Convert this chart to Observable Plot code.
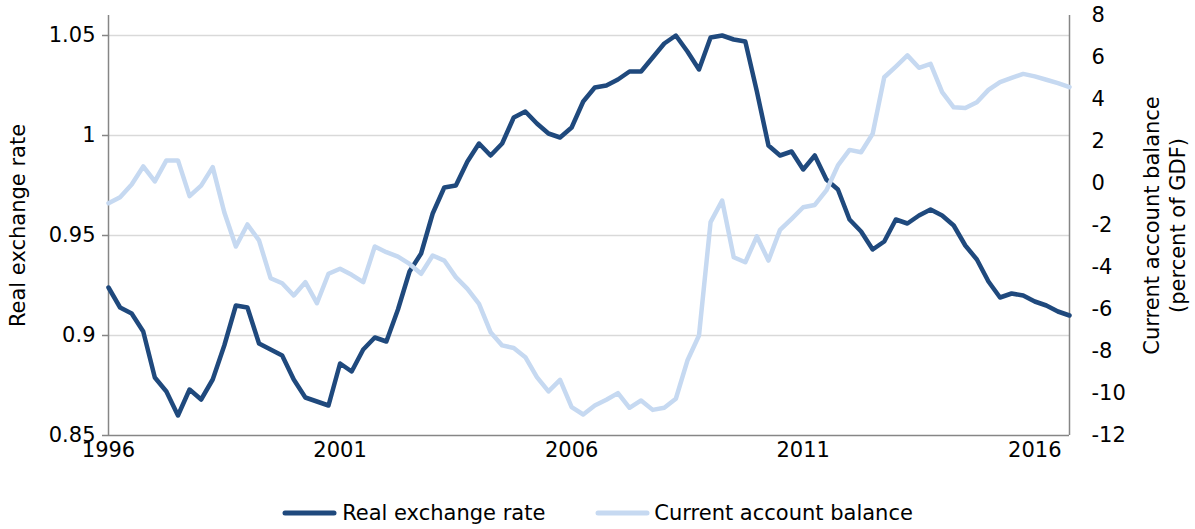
<!DOCTYPE html>
<html>
<head>
<meta charset="utf-8">
<script src="https://cdn.jsdelivr.net/npm/d3@7"></script>
<script src="https://cdn.jsdelivr.net/npm/@observablehq/plot@0.6"></script>
<style>
  html, body { margin: 0; padding: 0; background: #fff; }
  body { font-family: "DejaVu Sans", Verdana, sans-serif; color: #000; }
  #wrap { position: relative; width: 1195px; height: 529px; overflow: hidden; }
  #legend { position: absolute; left: 0; top: 500px; width: 1195px; height: 26px;
            display: flex; justify-content: center; align-items: center; font-size: 21px; color: #000; }
  #legend span { white-space: nowrap; }
</style>
</head>
<body>
<div id="wrap"><div id="chart"></div>
<div id="legend">
  <svg width="55" height="10"><line x1="3" y1="5" x2="52" y2="5" stroke="#1f497d" stroke-width="5" stroke-linecap="round"/></svg>
  <span style="margin-left:5px">Real exchange rate</span>
  <svg width="55" height="10" style="margin-left:50px"><line x1="3" y1="5" x2="52" y2="5" stroke="#c6d9f1" stroke-width="5" stroke-linecap="round"/></svg>
  <span style="margin-left:4px">Current account balance</span>
</div>
</div>
<script>
// ---- data (quarterly, 1996Q1 .. 2016Q4) ----
const startYear = 1996;
const xTickLabels = ["1996", "2001", "2006", "2011", "2016"];
const leftTicks = [0.85, 0.9, 0.95, 1, 1.05];
const rightTicks = [-12, -10, -8, -6, -4, -2, 0, 2, 4, 6, 8];

const realExchangeRate = [
  0.924, 0.914, 0.911, 0.902, 0.879, 0.872, 0.860, 0.873, 0.868, 0.878,
  0.895, 0.915, 0.914, 0.896, 0.893, 0.890, 0.878, 0.869, 0.867, 0.865,
  0.886, 0.882, 0.893, 0.899, 0.897, 0.913, 0.932, 0.941, 0.961, 0.974,
  0.975, 0.987, 0.996, 0.990, 0.996, 1.009, 1.012, 1.006, 1.001, 0.999,
  1.004, 1.017, 1.024, 1.025, 1.028, 1.032, 1.032, 1.039, 1.046, 1.050,
  1.042, 1.033, 1.049, 1.050, 1.048, 1.047, 1.022, 0.995, 0.990, 0.992,
  0.983, 0.990, 0.978, 0.973, 0.958, 0.952, 0.943, 0.947, 0.958, 0.956,
  0.960, 0.963, 0.960, 0.955, 0.945, 0.938, 0.927, 0.919, 0.921, 0.920,
  0.917, 0.915, 0.912, 0.910
];

const currentAccount = [
  -0.94, -0.65, -0.05, 0.81, 0.10, 1.10, 1.10, -0.60, -0.10, 0.78,
  -1.37, -3.00, -1.95, -2.71, -4.51, -4.75, -5.33, -4.70, -5.70, -4.30,
  -4.06, -4.35, -4.70, -3.00, -3.27, -3.48, -3.83, -4.30, -3.43, -3.67,
  -4.46, -5.02, -5.73, -7.08, -7.71, -7.83, -8.27, -9.22, -9.90, -9.35,
  -10.65, -11.00, -10.57, -10.30, -9.98, -10.68, -10.33, -10.78, -10.68, -10.25,
  -8.43, -7.24, -1.84, -0.81, -3.51, -3.75, -2.52, -3.67, -2.21, -1.68,
  -1.13, -1.02, -0.33, 0.86, 1.60, 1.49, 2.37, 5.06, 5.57, 6.10,
  5.51, 5.70, 4.35, 3.63, 3.60, 3.87, 4.46, 4.83, 5.03, 5.22,
  5.10, 4.94, 4.78, 4.59
];

// ---- scales ----
const yDom = [0.85, 1.06];
const cDom = [-12, 8];
const toY = v => yDom[0] + (v - cDom[0]) * (yDom[1] - yDom[0]) / (cDom[1] - cDom[0]);

const data = realExchangeRate.map((v, i) => ({ t: startYear + i / 4, rer: v, cab: currentAccount[i] }));
const xTicks = xTickLabels.map(Number);
const xEnd = startYear + (realExchangeRate.length - 1) / 4;

const chart = Plot.plot({
  width: 1195,
  height: 470,
  marginLeft: 108,
  marginRight: 126,
  marginTop: 15,
  marginBottom: 35,
  style: { fontFamily: "'DejaVu Sans', Verdana, sans-serif", fontSize: "21px", color: "#000", background: "#fff", overflow: "visible" },
  x: { domain: [startYear, xEnd] },
  y: { domain: yDom },
  marks: [
    Plot.ruleY(leftTicks.slice(1), { stroke: "#d9d9d9", strokeWidth: 1.5 }),
    Plot.axisX({ ticks: xTicks, tickFormat: (d, i) => xTickLabels[i], tickSize: 0, tickPadding: 7, label: null, fontSize: 21 }),
    Plot.axisY({ ticks: leftTicks, tickFormat: d => String(+d.toFixed(2)), tickSize: 6, tickPadding: 7, stroke: "#868686", strokeWidth: 1.5, label: null, fontSize: 21 }),
    Plot.axisY({ anchor: "right", ticks: rightTicks.map(toY), tickFormat: (d, i) => String(rightTicks[i]), tickSize: 0, tickPadding: 22, label: null, fontSize: 21 }),
    Plot.ruleX([startYear, xEnd], { stroke: "#868686", strokeWidth: 1.5 }),
    Plot.ruleY([yDom[0]], { stroke: "#868686", strokeWidth: 1.5 }),
    Plot.line(data, { x: "t", y: "rer", stroke: "#1f497d", strokeWidth: 4.5, strokeLinejoin: "round", strokeLinecap: "round" }),
    Plot.line(data, { x: "t", y: d => toY(d.cab), stroke: "#c6d9f1", strokeWidth: 4.5, strokeLinejoin: "round", strokeLinecap: "round" }),
    Plot.text(["Real exchange rate"], { frameAnchor: "left", dx: -90, rotate: -90, textAnchor: "middle", lineAnchor: "middle", fontSize: 21, fill: "#000" }),
    Plot.text(["Current account balance\n(percent of GDF)"], { frameAnchor: "right", dx: 94, rotate: -90, textAnchor: "middle", lineAnchor: "middle", fontSize: 21, lineHeight: 1.25, fill: "#000" })
  ]
});
document.getElementById("chart").appendChild(chart);
</script>
</body>
</html>
